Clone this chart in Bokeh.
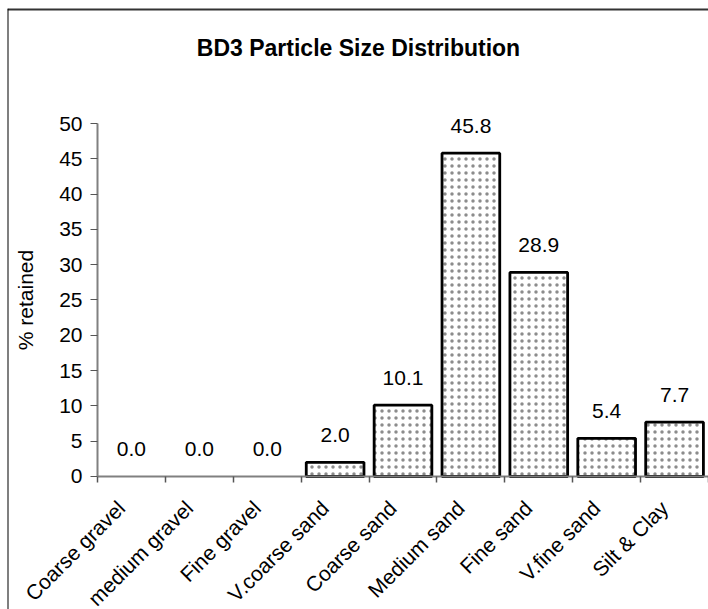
import math
from bokeh.plotting import figure
from bokeh.models import ColumnDataSource, Range1d, FixedTicker, LinearAxis, Label, Span
from bokeh.core.properties import value
from bokeh.embed import file_html
from bokeh.resources import INLINE

categories = ["Coarse gravel", "medium gravel", "Fine gravel", "V.coarse sand",
              "Coarse sand", "Medium sand", "Fine sand", "V.fine sand", "Silt & Clay"]
retained = [0.0, 0.0, 0.0, 2.0, 10.1, 45.8, 28.9, 5.4, 7.7]
y_ticks = [0, 5, 10, 15, 20, 25, 30, 35, 40, 45, 50]
title_text = "BD3 Particle Size Distribution"

FONT = "Liberation Sans"
LABEL_SHIFT = 0.15   # nudges the rotated category labels left (layout only)
N = len(categories)
X_START, Y_START, Y_END = -1.3257, -18.84, 66.29   # frame fills the whole canvas

centers = [i + 0.5 for i in range(N)]
label_ticks = [c - LABEL_SHIFT for c in centers]
labels_src = ColumnDataSource(dict(x=centers, y=retained,
                                   txt=[f"{v:.1f}" for v in retained]))
bars_src = ColumnDataSource(dict(x=[c for c, v in zip(centers, retained) if v > 0],
                                 top=[v for v in retained if v > 0]))

p = figure(width=701, height=601, output_backend="svg", toolbar_location=None,
           x_range=Range1d(X_START, N), y_range=Range1d(Y_START, Y_END),
           min_border=0, title=None, x_axis_type=None, y_axis_type=None)
p.margin = (8, 0, 0, 7)
p.outline_line_color = None
p.xgrid.visible = False
p.ygrid.visible = False

# chart-area border (top and left edges visible, the rest runs off the page)
p.add_layout(Span(location=Y_END, dimension="width", line_color="#333333", line_width=4))
p.add_layout(Span(location=X_START, dimension="height", line_color="#000000", line_width=2))

p.add_layout(Label(x=351, y=562, x_units="screen", y_units="screen", text=title_text,
                   text_align="center", text_baseline="middle", text_font=FONT,
                   text_font_style="bold", text_font_size="23px", text_color="#000000"))

xaxis = LinearAxis(ticker=FixedTicker(ticks=label_ticks, minor_ticks=list(range(N + 1))),
                   major_label_overrides={t: n for t, n in zip(label_ticks, categories)},
                   fixed_location=0, bounds=(0, N))
xaxis.major_label_orientation = math.pi / 4
xaxis.major_tick_line_color = None
xaxis.minor_tick_in = 0
xaxis.minor_tick_out = 6
xaxis.minor_tick_line_color = "#555555"
xaxis.minor_tick_line_width = 1.5
xaxis.axis_line_color = "#808080"
xaxis.axis_line_width = 2
xaxis.major_label_text_font = FONT
xaxis.major_label_text_font_size = "21px"
xaxis.major_label_text_color = "#000000"
xaxis.major_label_standoff = 22
p.add_layout(xaxis, "below")

yaxis = LinearAxis(ticker=FixedTicker(ticks=y_ticks, minor_ticks=[]), bounds=(0, 50),
                   fixed_location=0)
yaxis.axis_label = "% retained"
yaxis.axis_label_text_font = FONT
yaxis.axis_label_text_font_size = "21px"
yaxis.axis_label_text_font_style = "normal"
yaxis.axis_label_text_color = "#000000"
yaxis.axis_label_standoff = 19
yaxis.axis_line_color = "#808080"
yaxis.axis_line_width = 2
yaxis.major_tick_in = 0
yaxis.major_tick_out = 7
yaxis.major_tick_line_color = "#555555"
yaxis.major_label_text_font = FONT
yaxis.major_label_text_font_size = "21px"
yaxis.major_label_text_color = "#000000"
yaxis.major_label_standoff = 8
p.add_layout(yaxis, "left")

p.vbar(x="x", top="top", width=0.85, bottom=0, source=bars_src,
       fill_color="white", line_color="black", line_width=2.8,
       hatch_pattern="dot", hatch_color="black", hatch_alpha=0.45,
       hatch_scale=7, hatch_weight=1)

p.text(x="x", y="y", text="txt", source=labels_src, text_align="center",
       text_baseline="alphabetic", y_offset=-27, text_font=value(FONT),
       text_font_size="21px", text_color="black")

open("out.html", "w").write(file_html(p, INLINE))
